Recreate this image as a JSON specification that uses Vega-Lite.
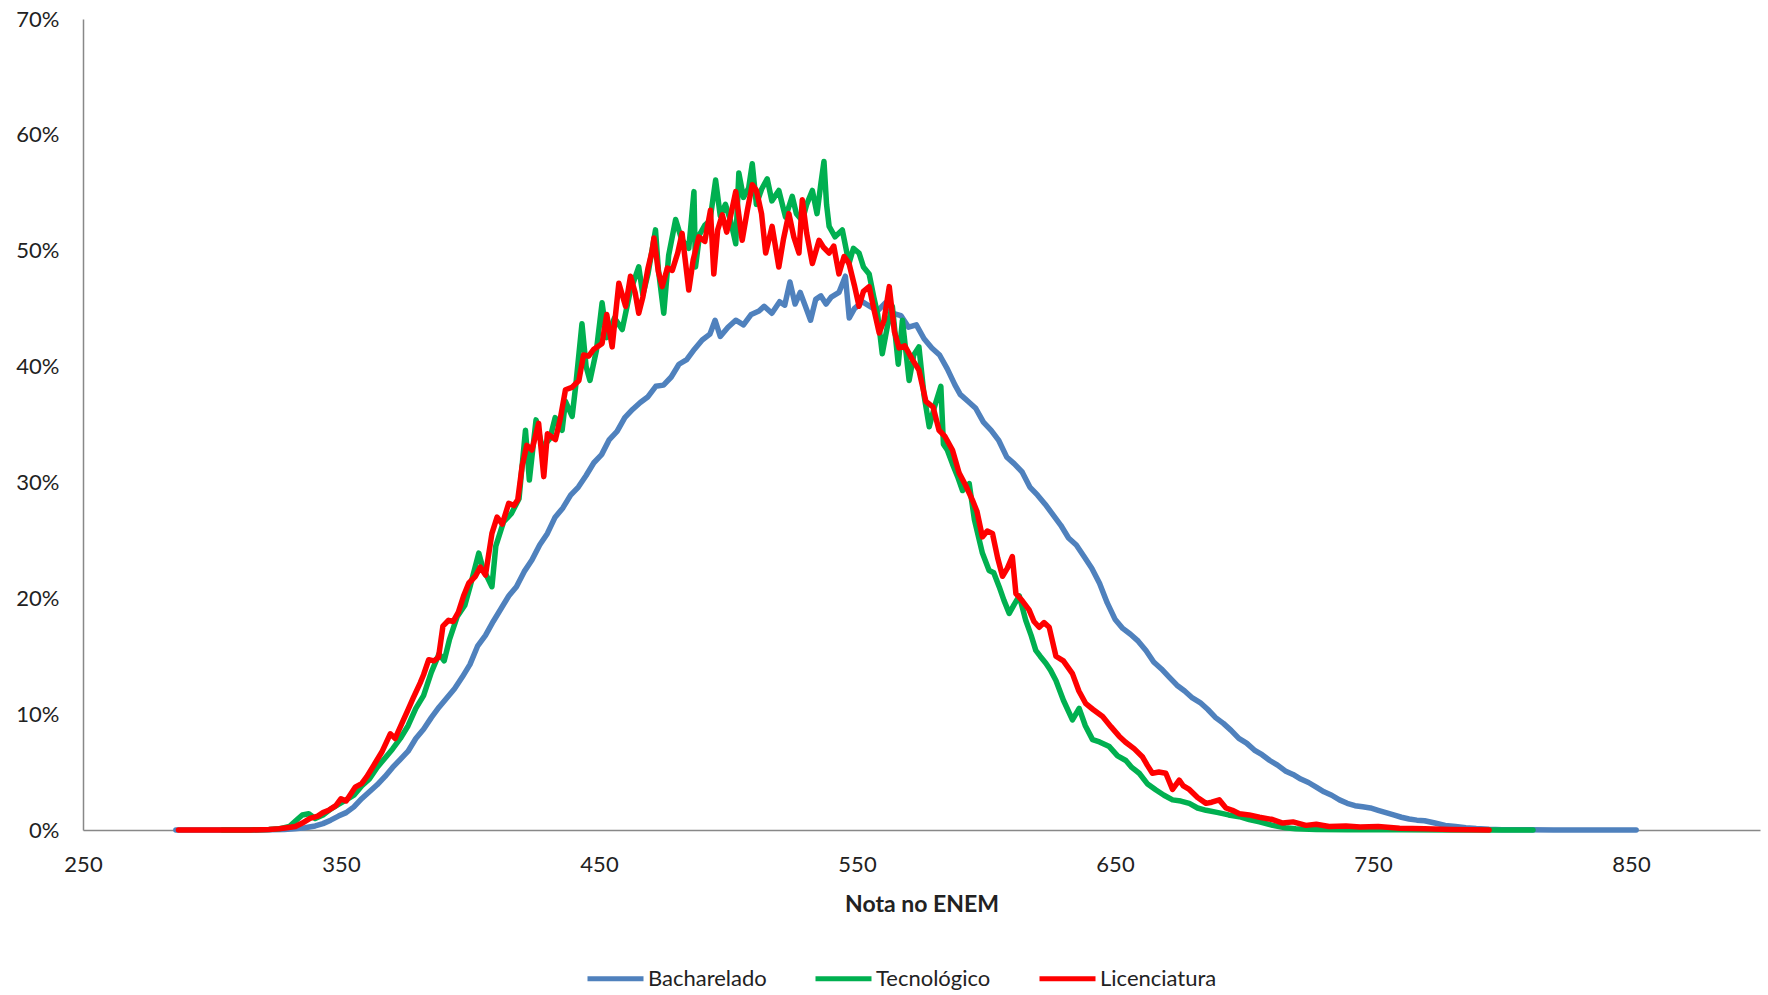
{
"$schema": "https://vega.github.io/schema/vega-lite/v6.json",
"width": 1677, "height": 811,
"autosize": {"type": "none"},
"padding": {"left": 83, "top": 19, "right": 8, "bottom": 165},
"background": "white",
"config": {"view": {"stroke": null}, "font": "Lato"},
"datasets": {
"bach": [[286,0],[295,0],[305,0],[315,0],[322,0.02],[328,0.05],[332,0.1],[336,0.2],[340,0.35],[343,0.55],[346,0.85],[349,1.2],[352,1.5],[355,2.0],[358,2.7],[361,3.3],[364,3.9],[367,4.6],[370,5.4],[373,6.1],[376,6.8],[379,7.9],[382,8.7],[385,9.7],[388,10.6],[391,11.4],[394,12.2],[397,13.2],[400,14.3],[403,15.9],[406,16.8],[409,18.0],[412,19.1],[415,20.2],[418,21.0],[421,22.3],[424,23.3],[427,24.6],[430,25.6],[433,27.0],[436,27.8],[439,28.9],[442,29.6],[445,30.6],[448,31.7],[451,32.4],[454,33.7],[457,34.4],[460,35.6],[463,36.3],[466,36.9],[469,37.4],[472,38.3],[475,38.4],[478,39.1],[481,40.2],[484,40.6],[487,41.5],[490,42.3],[493,42.8],[495,44.0],[497,42.6],[500,43.4],[503,44.0],[506,43.6],[509,44.5],[512,44.8],[514,45.2],[517,44.6],[520,45.6],[522,45.3],[524,47.3],[526,45.4],[528,46.4],[530,45.2],[532,44.0],[534,45.8],[536,46.1],[538,45.4],[540,46.0],[543,46.4],[545.5,47.8],[547,44.2],[549,45.0],[552,45.6],[555,45.2],[558,44.8],[561,45.5],[564,44.6],[567,44.4],[570,43.4],[573,43.6],[576,42.4],[579,41.6],[582,41.0],[585,39.8],[588,38.4],[590,37.6],[593,37.0],[596,36.4],[599,35.2],[602,34.5],[605,33.6],[608,32.2],[611,31.6],[614,30.9],[617,29.6],[620,28.9],[623,28.1],[626,27.2],[629,26.3],[632,25.2],[635,24.6],[638,23.6],[641,22.6],[644,21.3],[647,19.6],[650,18.2],[653,17.4],[656,16.9],[659,16.3],[662,15.5],[665,14.5],[668,13.9],[671,13.2],[674,12.5],[677,12.0],[680,11.4],[683,11.0],[686,10.4],[689,9.7],[692,9.2],[695,8.6],[698,7.9],[701,7.5],[704,6.9],[707,6.5],[710,6.0],[713,5.6],[716,5.1],[719,4.8],[722,4.4],[725,4.1],[728,3.7],[731,3.3],[734,3.0],[737,2.6],[740,2.3],[743,2.1],[746,2.0],[749,1.9],[752,1.7],[755,1.5],[758,1.3],[761,1.1],[764,0.95],[767,0.85],[770,0.8],[774,0.6],[778,0.4],[782,0.3],[786,0.2],[790,0.12],[795,0.06],[800,0.03],[810,0.02],[820,0.01],[830,0],[840,0],[852,0]],
"tec": [[304,0],[312,0],[318,0.02],[322,0.05],[326,0.1],[330,0.3],[333,0.9],[335,1.3],[337.5,1.4],[340,1.0],[343,1.3],[346,1.8],[349,2.2],[352,2.6],[355,3.0],[358,3.8],[361,4.4],[364,5.4],[367,6.2],[370,7.0],[373,7.9],[376,9.0],[379,10.5],[382,11.6],[385,13.6],[388,15.2],[390,14.6],[392,16.4],[395,18.4],[398,19.4],[400,21.0],[403.4,23.9],[405,22.6],[408.5,21.0],[410,24.5],[413,26.6],[416,27.3],[419,28.6],[421.5,34.5],[423,30.2],[425.6,35.4],[428,33.0],[431,33.8],[433,35.6],[435.7,34.5],[437,37.0],[439.6,35.7],[441,38.4],[443.4,43.7],[445,40.0],[446.5,38.8],[449,41.4],[451.2,45.5],[453,42.5],[456,44.2],[459,43.2],[462,46.4],[465.4,48.6],[467,46.2],[469,48.0],[471.9,51.8],[473,48.4],[475.1,44.6],[477,49.6],[479.7,52.7],[482,51.0],[484.8,50.2],[486.8,55.1],[487.4,48.6],[489,51.4],[491,52.2],[493,52.6],[495.2,56.1],[497,53.0],[499,54.0],[501,52.6],[503,50.6],[504.2,56.7],[506,54.6],[508,55.4],[509.4,57.5],[511,54.0],[513,55.3],[515.2,56.2],[517,54.3],[519.7,55.2],[522.3,52.9],[524.9,54.7],[526.5,53.2],[528.8,52.6],[530.5,54.0],[532.7,55.2],[534.5,53.2],[536,55.8],[537.2,57.7],[538.2,54.0],[539.2,52.1],[541.5,51.2],[544.3,51.8],[546.9,48.9],[548.6,50.2],[550.8,49.8],[552.5,48.6],[554.7,48.0],[556.5,46.0],[558,44.5],[559.8,41.1],[561.8,43.5],[563.7,45.2],[566,40.2],[567.6,44.0],[570.2,38.8],[572,41.0],[574,41.7],[576,37.5],[578,34.8],[580,36.5],[582.5,38.3],[583.5,33.3],[585,32.8],[587,31.6],[589,30.5],[590.9,29.3],[593.5,29.9],[595.5,26.8],[598.6,23.9],[601.2,22.4],[603,22.2],[605.1,21.0],[607,19.8],[609,18.7],[611,19.5],[612.9,20.2],[615.4,18.1],[617.5,16.8],[619.3,15.5],[621,15.0],[623.2,14.4],[625,13.8],[627.1,12.9],[630,11.2],[633.5,9.5],[636.1,10.5],[638.5,9.0],[641.3,7.8],[644,7.6],[647.8,7.2],[651,6.4],[654.2,6.0],[656.5,5.4],[659.4,4.9],[662.5,4.0],[665.9,3.45],[669,3.0],[672.3,2.6],[675.5,2.5],[678.8,2.3],[682,1.9],[685.3,1.7],[690,1.5],[694,1.3],[698.2,1.15],[702,0.9],[706,0.7],[711.1,0.4],[716,0.2],[720,0.1],[728,0.05],[740,0.03],[760,0.02],[780,0.01],[795,0],[812,0]],
"lic": [[287,0],[295,0],[305,0],[315,0],[322,0.05],[326,0.1],[329,0.2],[332.3,0.3],[335,0.6],[338,1.0],[341,1.2],[343,1.5],[345.2,1.7],[348,2.1],[350,2.7],[352,2.5],[355.5,3.7],[358,4.0],[360,4.6],[363.3,5.8],[366,6.8],[369.1,8.3],[371,7.9],[373.6,9.2],[376,10.4],[378,11.4],[380.7,12.7],[382,13.4],[384,14.7],[386,14.6],[387.8,14.9],[389.5,17.6],[391.7,18.1],[393.5,18.0],[395.5,18.8],[397.5,20.2],[399.5,21.3],[402.1,21.9],[404,22.7],[406,22.0],[408.5,25.6],[410.5,27.0],[412.5,26.4],[415,28.2],[417,28.0],[418.5,28.5],[420.2,31.4],[422,33.2],[424,32.8],[426.6,35.1],[428.6,30.5],[430,34.2],[433.1,33.7],[435,35.5],[437,38.0],[439.5,38.2],[442.2,38.8],[444,41.0],[446,40.9],[448,41.5],[451.2,42.0],[453,44.5],[455.1,41.7],[457.7,47.2],[460.3,45.2],[462.2,47.8],[464,46.4],[465.4,44.6],[467,46.0],[469,48.5],[470.6,50.0],[471.3,51.1],[473,48.2],[474.5,46.9],[476.5,48.5],[478.4,48.3],[480.5,49.8],[482.2,51.5],[484.8,46.6],[486.5,49.2],[488.7,51.2],[491,50.8],[493.2,53.5],[494.5,48.0],[496,51.8],[497.8,53.1],[499.5,51.6],[501,53.0],[503,55.1],[505.5,50.9],[507.5,53.5],[509.4,55.7],[511,55.2],[513,53.2],[514.6,49.8],[517.1,52.1],[519.7,48.6],[521.5,51.0],[523.6,53.2],[525.5,51.2],[527.5,49.8],[528.8,54.4],[530.5,51.5],[532.7,48.9],[535.3,50.9],[537,50.3],[539.2,49.8],[541,50.4],[543,48.0],[545,49.5],[546.9,48.9],[549,47.0],[550.8,45.2],[552.5,46.5],[554.7,46.9],[556.5,45.0],[558.6,42.9],[560.5,44.0],[562.5,46.9],[564.5,43.0],[566.3,41.6],[568.5,41.8],[571.5,40.6],[574,39.7],[576.7,37.0],[579.5,36.5],[581.8,34.5],[584,34.0],[587,32.8],[589.6,30.8],[592,29.8],[594.7,28.5],[596.5,27.5],[598.6,25.3],[600.5,25.8],[602.5,25.6],[604.5,23.5],[606.4,21.9],[608.3,22.6],[610.2,23.6],[611.6,20.4],[614,19.8],[616.7,19.0],[618.6,18.0],[620.6,17.5],[622.5,17.9],[624.5,17.5],[627.1,15.0],[630,14.6],[633.5,13.5],[636,12.0],[638.7,10.9],[641.5,10.4],[645.2,9.8],[648.5,8.9],[651.6,8.1],[654,7.6],[657.5,7.0],[660.7,6.3],[662.5,5.6],[664.5,4.9],[667,5.0],[669.7,4.9],[672.3,3.5],[674.9,4.3],[676.5,3.8],[678.8,3.5],[682,2.8],[685.3,2.3],[687.5,2.4],[690.4,2.6],[693,1.9],[695.5,1.7],[698.2,1.4],[702,1.3],[706,1.1],[711.1,0.9],[715,0.6],[719,0.7],[724,0.4],[728,0.5],[733,0.3],[739.5,0.35],[745,0.25],[752,0.3],[760.3,0.15],[770,0.1],[780,0.05],[788,0.03],[795,0]]
},
"layer": [
{"data": {"name": "bach"}, "transform": [{"calculate": "'Bacharelado'", "as": "curso"}, {"calculate": "datum[0]", "as": "nota"}, {"calculate": "datum[1]", "as": "pct"}],
 "mark": {"type": "line", "strokeWidth": 5.5, "strokeJoin": "round", "strokeCap": "round"},
 "encoding": {"x": {"field": "nota", "type": "quantitative"}, "y": {"field": "pct", "type": "quantitative"}, "color": {"field": "curso", "type": "nominal"}}},
{"data": {"name": "tec"}, "transform": [{"calculate": "'Tecnológico'", "as": "curso"}, {"calculate": "datum[0]", "as": "nota"}, {"calculate": "datum[1]", "as": "pct"}],
 "mark": {"type": "line", "strokeWidth": 5.5, "strokeJoin": "round", "strokeCap": "round"},
 "encoding": {"x": {"field": "nota", "type": "quantitative"}, "y": {"field": "pct", "type": "quantitative"}, "color": {"field": "curso", "type": "nominal"}}},
{"data": {"name": "lic"}, "transform": [{"calculate": "'Licenciatura'", "as": "curso"}, {"calculate": "datum[0]", "as": "nota"}, {"calculate": "datum[1]", "as": "pct"}],
 "mark": {"type": "line", "strokeWidth": 5.5, "strokeJoin": "round", "strokeCap": "round"},
 "encoding": {"x": {"field": "nota", "type": "quantitative"}, "y": {"field": "pct", "type": "quantitative"}, "color": {"field": "curso", "type": "nominal"}}}
],
"encoding": {
 "x": {"field": "nota", "type": "quantitative", "scale": {"domain": [250, 900], "nice": false, "zero": false},
   "axis": {"values": [250, 350, 450, 550, 650, 750, 850], "grid": false, "ticks": false, "domainColor": "#888888", "domainWidth": 1.5, "labelFontSize": 22, "labelColor": "#222222", "labelPadding": 24, "labelFlush": false, "title": "Nota no ENEM", "titleFontSize": 23, "titleFontWeight": "bold", "titleColor": "#222222", "titlePadding": 18}},
 "y": {"field": "pct", "type": "quantitative", "scale": {"domain": [0, 70], "nice": false},
   "axis": {"values": [0, 10, 20, 30, 40, 50, 60, 70], "labelExpr": "datum.value + '%'", "grid": false, "ticks": false, "domainColor": "#888888", "domainWidth": 1.5, "labelFontSize": 22, "labelColor": "#222222", "labelPadding": 24, "title": null}},
 "color": {"field": "curso", "type": "nominal", "scale": {"domain": ["Bacharelado", "Tecnológico", "Licenciatura"], "range": ["#4F81BD", "#00B050", "#FF0000"]},
   "legend": {"title": null, "orient": "none", "legendX": 502, "legendY": 929, "direction": "horizontal", "symbolType": "stroke", "symbolSize": 3136, "symbolStrokeWidth": 5, "labelFontSize": 22, "labelOffset": 2, "columnPadding": 38, "labelColor": "#222222",
     "encode": {"symbols": {"update": {"stroke": {"scale": "color", "field": "value"}, "strokeWidth": {"value": 5}}}}}}
}
}
